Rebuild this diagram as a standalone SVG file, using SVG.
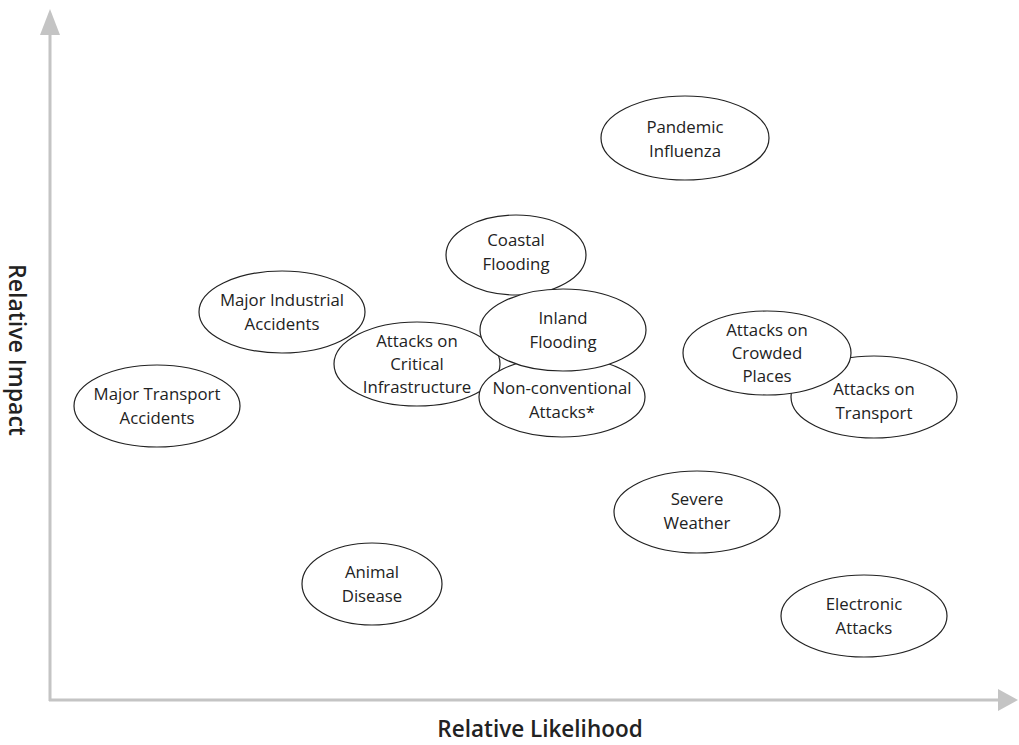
<svg xmlns="http://www.w3.org/2000/svg" width="1019" height="745" viewBox="0 0 1019 745">
<style>
.n ellipse{fill:#fff;stroke:#222;stroke-width:1.2}
.n text{font-family:"Open Sans","Noto Sans",sans-serif;font-size:16.8px;fill:#222;text-anchor:middle}
.ax{stroke:#c4c4c4;stroke-width:3;fill:none}
.ah{fill:#c4c4c4}
.lab{font-family:"Open Sans","Noto Sans",sans-serif;font-size:23px;font-weight:600;fill:#222;text-anchor:middle}
</style>
<rect width="1019" height="745" fill="#fff"/>
<g id="axes">
<line class="ax" x1="50" y1="32" x2="50" y2="701"/>
<line class="ax" x1="49" y1="700" x2="1000" y2="700"/>
<polygon class="ah" points="50,9 40,35 60,35"/>
<polygon class="ah" points="1018,700 998,689 998,711"/>
</g>
<text class="lab" transform="translate(9,350) rotate(90)">Relative Impact</text>
<text class="lab" x="540" y="737" style="font-size:22.5px">Relative Likelihood</text>
<g id="pandemic" class="n"><ellipse cx="685" cy="138" rx="84" ry="42"/><text x="685" y="133">Pandemic</text><text x="685" y="157">Influenza</text></g>
<g id="coastal" class="n"><ellipse cx="516" cy="255" rx="70" ry="40"/><text x="516" y="246">Coastal</text><text x="516" y="270">Flooding</text></g>
<g id="industrial" class="n"><ellipse cx="282" cy="312" rx="83" ry="41"/><text x="282" y="306">Major Industrial</text><text x="282" y="330">Accidents</text></g>
<g id="critical" class="n"><ellipse cx="417" cy="364" rx="83" ry="42"/><text x="417" y="347">Attacks on</text><text x="417" y="370">Critical</text><text x="417" y="393">Infrastructure</text></g>
<g id="nonconv" class="n"><ellipse cx="562" cy="397" rx="83" ry="40"/><text x="562" y="394">Non-conventional</text><text x="562" y="418">Attacks*</text></g>
<g id="inland" class="n"><ellipse cx="563" cy="330" rx="83" ry="41"/><text x="563" y="324">Inland</text><text x="563" y="348">Flooding</text></g>
<g id="transport" class="n"><ellipse cx="874" cy="397" rx="83" ry="41"/><text x="874" y="395">Attacks on</text><text x="874" y="419">Transport</text></g>
<g id="crowded" class="n"><ellipse cx="767" cy="353" rx="84" ry="42"/><text x="767" y="336">Attacks on</text><text x="767" y="359">Crowded</text><text x="767" y="382">Places</text></g>
<g id="majortransport" class="n"><ellipse cx="157" cy="406" rx="83" ry="41"/><text x="157" y="400">Major Transport</text><text x="157" y="424">Accidents</text></g>
<g id="weather" class="n"><ellipse cx="697" cy="512" rx="83" ry="41"/><text x="697" y="505">Severe</text><text x="697" y="529">Weather</text></g>
<g id="animal" class="n"><ellipse cx="372" cy="584" rx="70" ry="41"/><text x="372" y="578">Animal</text><text x="372" y="602">Disease</text></g>
<g id="electronic" class="n"><ellipse cx="864" cy="616" rx="83" ry="41"/><text x="864" y="610">Electronic</text><text x="864" y="634">Attacks</text></g>
<g id="connectors"></g>
</svg>
